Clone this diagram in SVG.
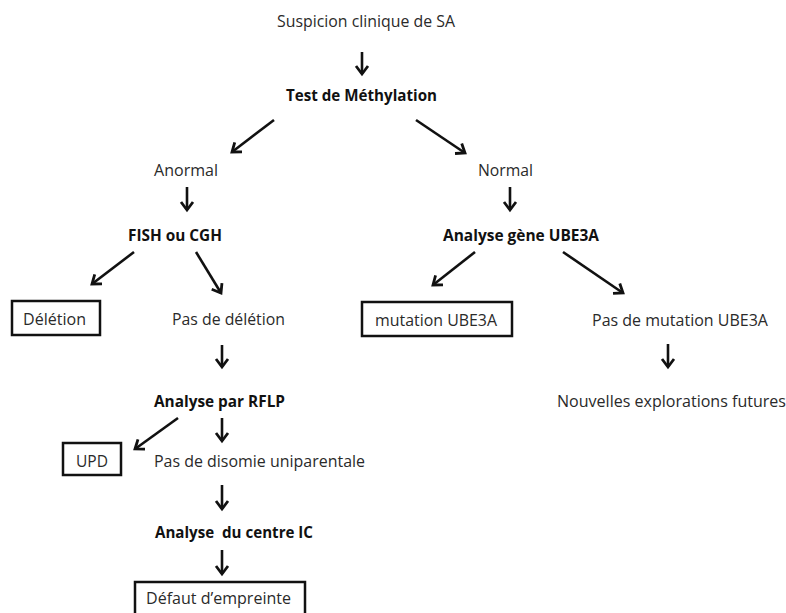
<svg xmlns="http://www.w3.org/2000/svg" width="786" height="613" viewBox="0 0 786 613">
<style>
text{font-family:"Open Sans","Liberation Sans",sans-serif;font-size:15.5px;fill:#2a2a2a}
.b{font-weight:bold;fill:#111}
.box{fill:none;stroke:#111;stroke-width:2.5}
.arr{stroke:#111;stroke-width:2.6;fill:none;marker-end:url(#ah)}
</style>
<defs>
<marker id="ah" viewBox="-10 -10 20 20" refX="0" refY="0" markerWidth="20" markerHeight="20" markerUnits="userSpaceOnUse" orient="auto">
<path d="M-8,-6 L0,0 L-8,6" fill="none" stroke="#111" stroke-width="2.8" stroke-linejoin="miter"/>
</marker>
</defs>
<rect width="786" height="613" fill="#fff"/>
<g id="connectors">
<line class="arr" x1="362" y1="52" x2="362" y2="74"/>
<line class="arr" x1="274" y1="120" x2="232" y2="152"/>
<line class="arr" x1="416" y1="120" x2="465" y2="153"/>
<line class="arr" x1="187" y1="187" x2="187" y2="210"/>
<line class="arr" x1="510" y1="187" x2="510" y2="210"/>
<line class="arr" x1="134" y1="252" x2="92" y2="284"/>
<line class="arr" x1="196" y1="252" x2="221" y2="293"/>
<line class="arr" x1="475" y1="252" x2="433" y2="285"/>
<line class="arr" x1="563" y1="252" x2="623" y2="293"/>
<line class="arr" x1="222" y1="345" x2="222" y2="367"/>
<line class="arr" x1="668" y1="344" x2="668" y2="367"/>
<line class="arr" x1="222" y1="418" x2="222" y2="441"/>
<line class="arr" x1="178" y1="418" x2="135" y2="449"/>
<line class="arr" x1="222" y1="485" x2="222" y2="509"/>
<line class="arr" x1="222" y1="550" x2="222" y2="574"/>
</g>
<g id="suspicion"><text x="277" y="27" textLength="178" lengthAdjust="spacingAndGlyphs">Suspicion clinique de SA</text></g>
<g id="methylation"><text class="b" x="286" y="101" textLength="151" lengthAdjust="spacingAndGlyphs">Test de Méthylation</text></g>
<g id="anormal"><text x="154" y="176" textLength="64" lengthAdjust="spacingAndGlyphs">Anormal</text></g>
<g id="normal"><text x="478" y="176" textLength="55" lengthAdjust="spacingAndGlyphs">Normal</text></g>
<g id="fish"><text class="b" x="128" y="241" textLength="94" lengthAdjust="spacingAndGlyphs">FISH ou CGH</text></g>
<g id="ube3a"><text class="b" x="443" y="241" textLength="156" lengthAdjust="spacingAndGlyphs">Analyse gène UBE3A</text></g>
<g id="deletion"><rect class="box" x="12" y="301" width="88" height="34"/><text x="23" y="325" textLength="63" lengthAdjust="spacingAndGlyphs">Délétion</text></g>
<g id="pasdeletion"><text x="172" y="325" textLength="113" lengthAdjust="spacingAndGlyphs">Pas de délétion</text></g>
<g id="mutation"><rect class="box" x="362" y="302" width="150" height="34"/><text x="375" y="326" textLength="122" lengthAdjust="spacingAndGlyphs">mutation UBE3A</text></g>
<g id="pasmutation"><text x="592" y="326" textLength="176" lengthAdjust="spacingAndGlyphs">Pas de mutation UBE3A</text></g>
<g id="nouvelles"><text x="557" y="407" textLength="229" lengthAdjust="spacingAndGlyphs">Nouvelles explorations futures</text></g>
<g id="rflp"><text class="b" x="154" y="407" textLength="131" lengthAdjust="spacingAndGlyphs">Analyse par RFLP</text></g>
<g id="upd"><rect class="box" x="63" y="443" width="58" height="32"/><text x="76" y="467" textLength="32" lengthAdjust="spacingAndGlyphs">UPD</text></g>
<g id="pasdisomie"><text x="154" y="467" textLength="211" lengthAdjust="spacingAndGlyphs">Pas de disomie uniparentale</text></g>
<g id="centreic"><text class="b" x="155" y="538" textLength="158" lengthAdjust="spacingAndGlyphs" xml:space="preserve">Analyse  du centre IC</text></g>
<g id="defaut"><rect class="box" x="135" y="582" width="170" height="40"/><text x="146" y="604" textLength="145" lengthAdjust="spacingAndGlyphs">Défaut d’empreinte</text></g>
</svg>
